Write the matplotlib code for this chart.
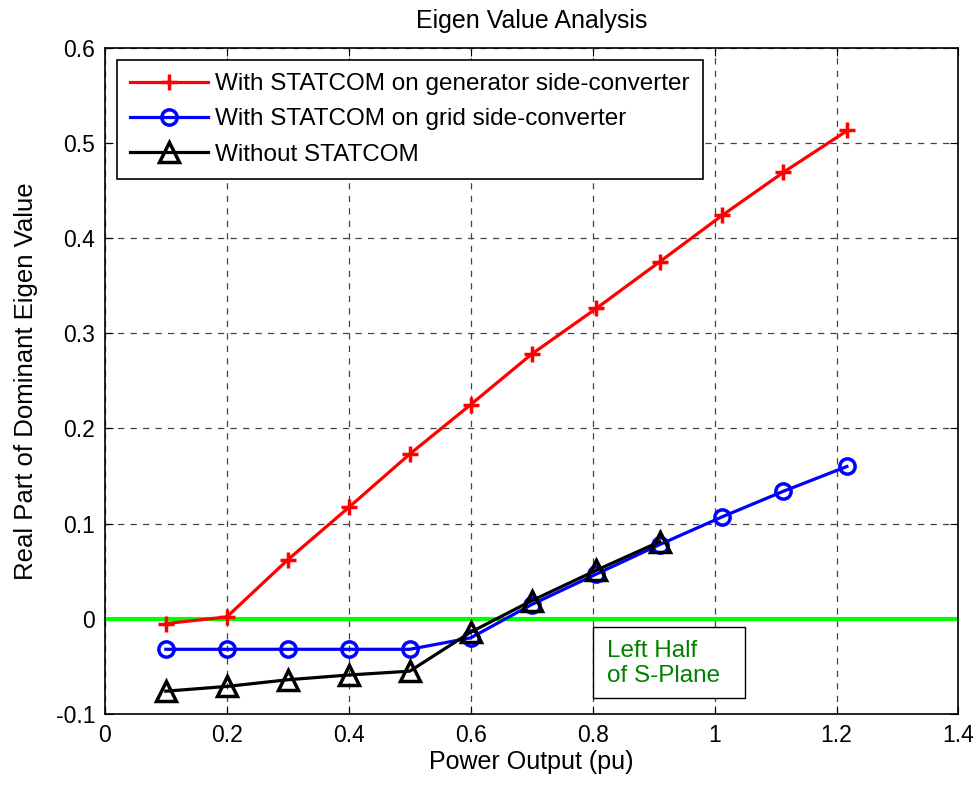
import matplotlib.pyplot as plt
from matplotlib.patches import Rectangle

plt.rcParams['font.family'] = ['Liberation Sans', 'DejaVu Sans']

# data
p_gen = [0.1, 0.2, 0.3, 0.4, 0.5, 0.6, 0.7, 0.806, 0.91, 1.013, 1.113, 1.218]
eig_gen = [-0.005, 0.002, 0.062, 0.117, 0.173, 0.225, 0.278, 0.326, 0.375, 0.424, 0.469, 0.513]

p_grid = [0.1, 0.2, 0.3, 0.4, 0.5, 0.6, 0.7, 0.806, 0.91, 1.012, 1.113, 1.217]
eig_grid = [-0.032, -0.032, -0.032, -0.032, -0.032, -0.020, 0.015, 0.047, 0.078, 0.107, 0.134, 0.160]

p_none = [0.1, 0.2, 0.3, 0.4, 0.5, 0.6, 0.7, 0.806, 0.91]
eig_none = [-0.076, -0.071, -0.064, -0.059, -0.055, -0.014, 0.019, 0.051, 0.081]

labels = ['With STATCOM on generator side-converter',
          'With STATCOM on grid side-converter',
          'Without STATCOM']

fig = plt.figure(figsize=(9.8, 7.85), dpi=100)
ax = fig.add_axes([0.107, 0.0904, 0.871, 0.849])

ax.plot(p_gen, eig_gen, color='red', lw=2.3, marker='+', ms=12, mew=2.5, label=labels[0])
ax.plot(p_grid, eig_grid, color='blue', lw=2.3, marker='o', ms=11, mew=2.5,
        mfc='none', label=labels[1])
ax.plot(p_none, eig_none, color='black', lw=2.3, marker='^', ms=14, mew=2.5,
        mfc='none', label=labels[2])
ax.axhline(0, color='#00ff00', lw=3, zorder=1)

ax.set_xlim(0, 1.4)
ax.set_ylim(-0.1, 0.6)
ax.set_xticks([0, 0.2, 0.4, 0.6, 0.8, 1, 1.2, 1.4])
ax.set_xticklabels(['0', '0.2', '0.4', '0.6', '0.8', '1', '1.2', '1.4'])
ax.set_yticks([-0.1, 0, 0.1, 0.2, 0.3, 0.4, 0.5, 0.6])
ax.set_yticklabels(['-0.1', '0', '0.1', '0.2', '0.3', '0.4', '0.5', '0.6'])
ax.tick_params(direction='in', top=True, right=True, labelsize=16.5, length=6, pad=7)
ax.grid(True, color='#444444', ls=(0, (5, 5)), lw=0.9)
ax.set_axisbelow(True)

ax.set_title('Eigen Value Analysis', fontsize=18, pad=14)
ax.set_xlabel('Power Output (pu)', fontsize=18, labelpad=2)
ax.set_ylabel('Real Part of Dominant Eigen Value', fontsize=18.5, labelpad=13)

leg = ax.legend(loc='upper left', fontsize=17.5, fancybox=False, framealpha=1,
                edgecolor='black', handlelength=3.2, handletextpad=0.3,
                borderaxespad=0.5, labelspacing=0.55, borderpad=0.55)
leg.get_frame().set_linewidth(1.2)

ax.add_patch(Rectangle((0.80, -0.083), 0.25, 0.074, fc='white', ec='black', lw=1, zorder=3))
ax.text(0.823, -0.047, 'Left Half\nof S-Plane', color='#008000', fontsize=17.5,
        va='center', ha='left', zorder=4, linespacing=1.2)

for s in ax.spines.values():
    s.set_linewidth(1.2)

fig.savefig('out.png', dpi=100)
